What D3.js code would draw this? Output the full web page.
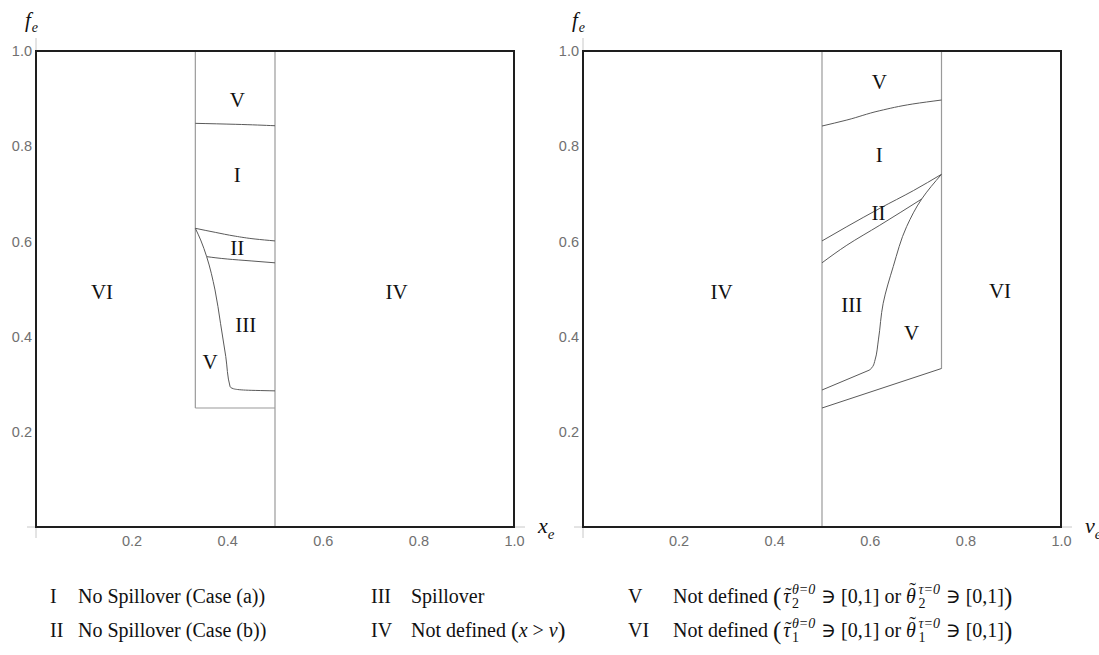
<!DOCTYPE html>
<html><head><meta charset="utf-8">
<script src="https://cdn.jsdelivr.net/npm/d3@7"></script>
<style>body{margin:0;background:#fff} svg{display:block}</style>
</head><body>
<svg id="c" width="1099" height="655"></svg>
<script>
// ---------- data ----------
const xTicks = [0.2, 0.4, 0.6, 0.8, 1.0];
const yTicks = [0.2, 0.4, 0.6, 0.8, 1.0];

// Left panel (x_e, f_e)
const leftGrayLines = [
  [[0.5, 0], [0.5, 1]],
  [[1/3, 0.25], [1/3, 1]],
  [[1/3, 0.25], [0.5, 0.25]]
];
const leftCurveVI = [[1/3, 0.848], [0.4167, 0.846], [0.5, 0.843]];
const leftCurveIITop = [[1/3, 0.6275], [0.375, 0.619], [0.4167, 0.611], [0.4583, 0.605], [0.5, 0.601]];
const leftCurveIIBottom = [[0.357, 0.568], [0.4, 0.563], [0.45, 0.559], [0.5, 0.555]];
const leftCurveIIIV = [[1/3, 0.6275], [0.3445, 0.603], [0.357, 0.568], [0.3745, 0.498], [0.386, 0.428],
  [0.397, 0.358], [0.406, 0.295], [0.413, 0.2905], [0.434, 0.2878], [0.5, 0.286]];
const leftLabels = [
  {t: "V", x: 0.421, y: 0.897}, {t: "I", x: 0.421, y: 0.7395}, {t: "II", x: 0.421, y: 0.5855},
  {t: "III", x: 0.4386, y: 0.4244}, {t: "V", x: 0.364, y: 0.3473}, {t: "IV", x: 0.7545, y: 0.4944},
  {t: "VI", x: 0.138, y: 0.4944}
];

// Right panel (v_e, f_e)
const rightGrayLines = [
  [[0.5, 0], [0.5, 1]],
  [[0.75, 0.333], [0.75, 1]]
];
const rightCurveBottom = [[0.5, 0.25], [0.75, 0.333]];
const rightCurveVI = [[0.5, 0.8424], [0.552, 0.855], [0.621, 0.8746], [0.69, 0.8887], [0.75, 0.897]];
const rightCurveIITop = [[0.5, 0.601], [0.552, 0.631], [0.621, 0.6695], [0.691, 0.7066], [0.75, 0.741]];
const rightCurveIIBottom = [[0.5, 0.555], [0.552, 0.592], [0.621, 0.634], [0.7085, 0.689]];
const rightCurveIIIV = [[0.75, 0.741], [0.7085, 0.689], [0.677, 0.631], [0.649, 0.547], [0.628, 0.47],
  [0.618, 0.393], [0.611, 0.351], [0.606, 0.337], [0.600, 0.330]];
const rightCurveIIIBottom = [[0.5, 0.2878], [0.600, 0.330]];
const rightLabels = [
  {t: "V", x: 0.62, y: 0.9355}, {t: "I", x: 0.62, y: 0.7815}, {t: "II", x: 0.618, y: 0.660},
  {t: "III", x: 0.562, y: 0.4664}, {t: "V", x: 0.6876, y: 0.408}, {t: "VI", x: 0.8724, y: 0.4965},
  {t: "IV", x: 0.29, y: 0.4944}
];

// ---------- layout ----------
const svg = d3.select("#c");
const SERIF = "'Liberation Serif','Times New Roman',serif";
const SANS = "'Liberation Sans',Arial,sans-serif";
const yTop = 51, yBot = 527;

function panel(x0, x1, grayLines, curves, labels, xName) {
  const x = d3.scaleLinear().domain([0, 1]).range([x0, x1]);
  const y = d3.scaleLinear().domain([0, 1]).range([yBot, yTop]);
  const g = svg.append("g");
  const line = d3.line().x(d => x(d[0])).y(d => y(d[1]));
  const curve = d3.line().x(d => x(d[0])).y(d => y(d[1])).curve(d3.curveMonotoneY);

  // axes extensions (light gray)
  g.append("line").attr("x1", x0 - 9).attr("x2", x1 + 11).attr("y1", yBot).attr("y2", yBot)
    .attr("stroke", "#c8c8c8").attr("stroke-width", 1);
  g.append("line").attr("x1", x0).attr("x2", x0).attr("y1", yTop - 13).attr("y2", yBot + 11)
    .attr("stroke", "#c8c8c8").attr("stroke-width", 1);

  // tick labels via d3 axes
  const ax = g.append("g").attr("transform", `translate(0,${yBot})`)
    .call(d3.axisBottom(x).tickValues(xTicks).tickFormat(d3.format(".1f")).tickSize(0).tickPadding(9));
  ax.select(".domain").remove();
  ax.selectAll("text").attr("font-family", SANS).attr("font-size", 14.5).attr("fill", "#707070");
  const ay = g.append("g").attr("transform", `translate(${x0},0)`)
    .call(d3.axisLeft(y).tickValues(yTicks).tickFormat(d3.format(".1f")).tickSize(0).tickPadding(4));
  ay.select(".domain").remove();
  ay.selectAll("text").attr("font-family", SANS).attr("font-size", 14.5).attr("fill", "#707070");

  grayLines.forEach(l => g.append("path").attr("d", line(l)).attr("fill", "none")
    .attr("stroke", "#9a9a9a").attr("stroke-width", 1.2));
  curves.forEach(c => g.append("path").attr("d", (c.length > 2 ? curve : line)(c)).attr("fill", "none")
    .attr("stroke", "#5a5a5a").attr("stroke-width", 1));

  // frame
  g.append("rect").attr("x", x0).attr("y", yTop).attr("width", x1 - x0).attr("height", yBot - yTop)
    .attr("fill", "none").attr("stroke", "#1e1e1e").attr("stroke-width", 2);

  // region labels
  g.selectAll("text.lab").data(labels).join("text").attr("class", "lab")
    .attr("x", d => x(d.x)).attr("y", d => y(d.y)).attr("text-anchor", "middle")
    .attr("dominant-baseline", "central").attr("font-family", SERIF).attr("font-size", 21)
    .attr("fill", "#111").text(d => d.t);

  // axis names
  const fl = g.append("text").attr("x", x0 - 11).attr("y", 27).attr("font-family", SERIF)
    .attr("font-style", "italic").attr("font-size", 21).attr("fill", "#111");
  fl.append("tspan").text("f");
  fl.append("tspan").attr("font-size", 14).attr("dy", 5).attr("dx", 1).text("e");
  const xl = g.append("text").attr("x", x1 + 24).attr("y", 533).attr("font-family", SERIF)
    .attr("font-style", "italic").attr("font-size", 22).attr("fill", "#111");
  xl.append("tspan").text(xName);
  xl.append("tspan").attr("font-size", 15).attr("dy", 6).text("e");
}

panel(36, 514, leftGrayLines, [leftCurveVI, leftCurveIITop, leftCurveIIBottom, leftCurveIIIV], leftLabels, "x");
panel(583, 1061, rightGrayLines, [rightCurveBottom, rightCurveVI, rightCurveIITop, rightCurveIIBottom, rightCurveIIIV, rightCurveIIIBottom], rightLabels, "v");

// ---------- legend ----------
const legendNumerals = ["I", "II", "III", "IV", "V", "VI"];
const MATH = "'Liberation Serif','DejaVu Serif',serif";

function rich(x, y, pieces) {
  const g = svg.append("g");
  let cx = x;
  pieces.forEach(p => {
    const t = g.append("text").attr("x", cx).attr("y", y + (p.dy || 0))
      .attr("font-family", p.math ? MATH : SERIF).attr("font-size", p.size || 20)
      .attr("fill", "#111").attr("xml:space", "preserve").style("white-space", "pre");
    let lx = cx;
    if (p.pre) {
      const pr = t.append("tspan").attr("font-style", "normal").text(p.pre);
      lx = cx + pr.node().getComputedTextLength();
    }
    const main = t.append("tspan").attr("font-style", p.italic ? "italic" : "normal").text(p.t);
    const lw = main.node().getComputedTextLength();
    let right = lx + lw;
    if (p.tilde !== undefined) {
      t.append("tspan").attr("x", lx + lw / 2 + 1.5).attr("y", y + p.tilde)
        .attr("text-anchor", "middle").attr("font-style", "normal").text("\u02DC");
    }
    if (p.sup) {
      const sx = lx + lw + (p.gap || 1);
      const a = t.append("tspan").attr("x", sx).attr("y", y - 9).attr("font-size", 14)
        .attr("font-style", "italic").text(p.sup);
      const b = t.append("tspan").attr("x", sx).attr("y", y + 5).attr("font-size", 14)
        .attr("font-style", "normal").text(p.sub);
      right = sx + Math.max(a.node().getComputedTextLength(), b.node().getComputedTextLength()) + 1;
    }
    cx = right + (p.after || 0);
  });
}

const row1 = 603, row2 = 637;
const colNum = [50, 371, 628];
const colTxt = [78, 411, 673];

function numeral(i, col, yy) {
  svg.append("text").attr("x", colNum[col]).attr("y", yy).attr("font-family", SERIF)
    .attr("font-size", 20).attr("fill", "#111").text(legendNumerals[i]);
}
numeral(0, 0, row1); numeral(1, 0, row2);
numeral(2, 1, row1); numeral(3, 1, row2);
numeral(4, 2, row1); numeral(5, 2, row2);

rich(colTxt[0], row1, [{t: "No Spillover (Case (a))"}]);
rich(colTxt[0], row2, [{t: "No Spillover (Case (b))"}]);
rich(colTxt[1], row1, [{t: "Spillover"}]);
rich(colTxt[1], row2, [{t: "Not defined "}, {t: "(", math: true, size: 23, dy: 1},
  {t: "x", italic: true, math: true}, {t: " > ", math: true}, {t: "v", italic: true, math: true},
  {t: ")", math: true, size: 23, dy: 1}]);

function notDefined(y, k) {
  rich(colTxt[2], y, [
    {t: "Not defined "}, {t: "(", math: true, size: 25, dy: 2, after: 2},
    {t: "\u03C4", italic: true, math: true, tilde: -1, sup: "\u03B8=0", sub: k, gap: 1.5},
    {pre: " \u220B [0,1] or ", t: "\u03B8", italic: true, math: true, tilde: -6, sup: "\u03C4=0", sub: k, gap: 2.5},
    {t: " \u220B [0,1]", math: true},
    {t: ")", math: true, size: 25, dy: 2}
  ]);
}
notDefined(row1, "2");
notDefined(row2, "1");
</script>
</body></html>
